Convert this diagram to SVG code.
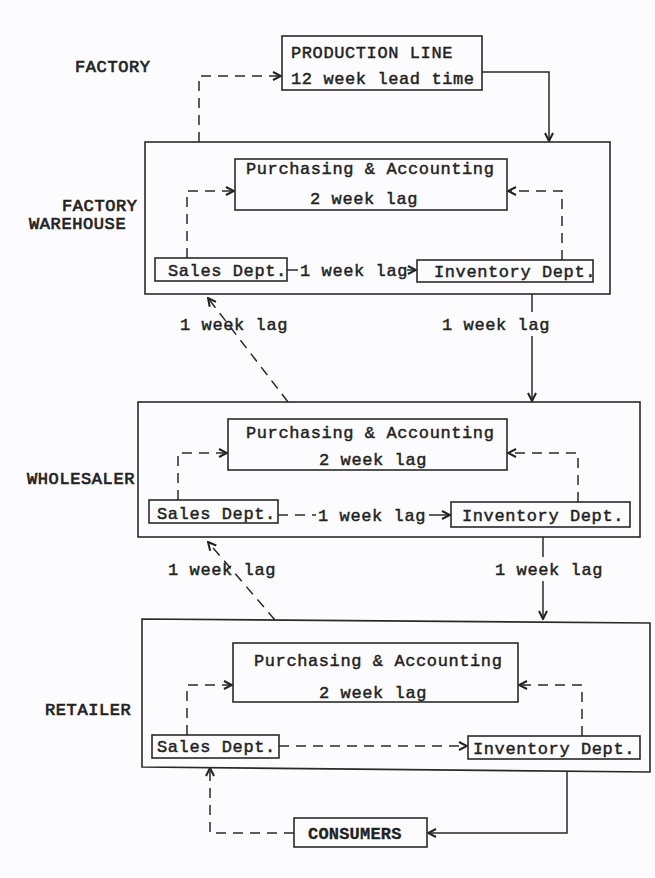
<svg xmlns="http://www.w3.org/2000/svg" width="655" height="878" viewBox="0 0 655 878">
<defs>
<marker id="ah" viewBox="0 0 10 10" refX="9" refY="5" markerWidth="10" markerHeight="10" markerUnits="userSpaceOnUse" orient="auto">
<path d="M1,1 L9,5 L1,9" fill="none" stroke="#222" stroke-width="2"/>
</marker>
<style>
.bg{fill:#fcfbfd}
.box{fill:none;stroke:#2a2a2a;stroke-width:1.6}
.solid{fill:none;stroke:#2a2a2a;stroke-width:1.5}
.dash{fill:none;stroke:#2a2a2a;stroke-width:1.5;stroke-dasharray:10 7}
.t{font-family:"Liberation Mono","DejaVu Sans Mono",monospace;font-size:17px;letter-spacing:0.6px;fill:#222;stroke:#222;stroke-width:0.45}
.lbl{font-family:"Liberation Mono","DejaVu Sans Mono",monospace;font-size:17px;letter-spacing:0.6px;fill:#222;stroke:#222;stroke-width:0.7}
</style>
</defs>
<rect class="bg" x="0" y="0" width="655" height="878"/>

<g id="connectors">
<path class="dash" d="M199,142 V76 H281" marker-end="url(#ah)"/>
<path class="solid" d="M482,72 H549 V141" marker-end="url(#ah)"/>
<path class="dash" d="M187,258 V191 H234" marker-end="url(#ah)"/>
<path class="dash" d="M562,260 V191 H508" marker-end="url(#ah)"/>
<path class="solid" d="M287,270 H298"/>
<path class="solid" d="M407,270 H416" marker-end="url(#ah)"/>
<path class="dash" d="M288,402 L208,298" marker-end="url(#ah)"/>
<path class="solid" d="M532,294 V312"/>
<path class="solid" d="M532,336 V401" marker-end="url(#ah)"/>
<path class="dash" d="M178,500 V453 H227" marker-end="url(#ah)"/>
<path class="dash" d="M578,502 V453 H508" marker-end="url(#ah)"/>
<path class="dash" d="M278,515 H316"/>
<path class="solid" d="M429,515 H450" marker-end="url(#ah)"/>
<path class="dash" d="M275,620 L208,542" marker-end="url(#ah)"/>
<path class="solid" d="M543,537 V557"/>
<path class="solid" d="M543,581 V619" marker-end="url(#ah)"/>
<path class="dash" d="M187,735 V685 H232" marker-end="url(#ah)"/>
<path class="dash" d="M582,736 V685 H519" marker-end="url(#ah)"/>
<path class="dash" d="M279,746 H467" marker-end="url(#ah)"/>
<path class="dash" d="M294,833 H210 V768" marker-end="url(#ah)"/>
<path class="solid" d="M567,771 V833 H428" marker-end="url(#ah)"/>
<text class="t" x="300" y="276">1 week lag</text>
<text class="t" x="318" y="521">1 week lag</text>
<text class="t" x="180" y="330">1 week lag</text>
<text class="t" x="442" y="330">1 week lag</text>
<text class="t" x="168" y="575">1 week lag</text>
<text class="t" x="495" y="575">1 week lag</text>
</g>

<g id="labels">
<text class="lbl" x="75" y="72">FACTORY</text>
<text class="lbl" x="62" y="211">FACTORY</text>
<text class="lbl" x="29" y="229">WAREHOUSE</text>
<text class="lbl" x="27" y="484">WHOLESALER</text>
<text class="lbl" x="45" y="715">RETAILER</text>
</g>

<g id="production-line">
<rect class="box" x="282" y="36" width="200" height="54"/>
<text class="t" x="291" y="58">PRODUCTION LINE</text>
<text class="t" x="291" y="84">12 week lead time</text>
</g>

<g id="factory-warehouse">
<rect class="box" x="145" y="142" width="465" height="152"/>
<g id="fw-purchasing">
<rect class="box" x="235" y="159" width="272" height="51"/>
<text class="t" x="246" y="174">Purchasing &amp; Accounting</text>
<text class="t" x="310" y="204">2 week lag</text>
</g>
<g id="fw-sales">
<rect class="box" x="155" y="258" width="132" height="23"/>
<text class="t" x="168" y="276">Sales Dept.</text>
</g>
<g id="fw-inventory">
<rect class="box" x="417" y="260" width="176" height="22"/>
<text class="t" x="434" y="277">Inventory Dept.</text>
</g>
</g>

<g id="wholesaler">
<rect class="box" x="138" y="402" width="502" height="135"/>
<g id="wh-purchasing">
<rect class="box" x="228" y="419" width="279" height="51"/>
<text class="t" x="246" y="438">Purchasing &amp; Accounting</text>
<text class="t" x="319" y="465">2 week lag</text>
</g>
<g id="wh-sales">
<rect class="box" x="149" y="500" width="129" height="23"/>
<text class="t" x="157" y="519">Sales Dept.</text>
</g>
<g id="wh-inventory">
<rect class="box" x="451" y="502" width="179" height="25"/>
<text class="t" x="462" y="521">Inventory Dept.</text>
</g>
</g>

<g id="retailer">
<path class="box" d="M142,619 L650,623 L650,772 L142,767 Z"/>
<g id="rt-purchasing">
<rect class="box" x="233" y="643" width="285" height="59"/>
<text class="t" x="254" y="666">Purchasing &amp; Accounting</text>
<text class="t" x="319" y="698">2 week lag</text>
</g>
<g id="rt-sales">
<rect class="box" x="152" y="735" width="127" height="23"/>
<text class="t" x="157" y="752">Sales Dept.</text>
</g>
<g id="rt-inventory">
<rect class="box" x="468" y="736" width="172" height="23"/>
<text class="t" x="473" y="754">Inventory Dept.</text>
</g>
</g>

<g id="consumers">
<rect class="box" x="294" y="818" width="133" height="29"/>
<text class="lbl" x="308" y="839" style="letter-spacing:0.2px;font-weight:bold;stroke-width:0.3">CONSUMERS</text>
</g>
</svg>
